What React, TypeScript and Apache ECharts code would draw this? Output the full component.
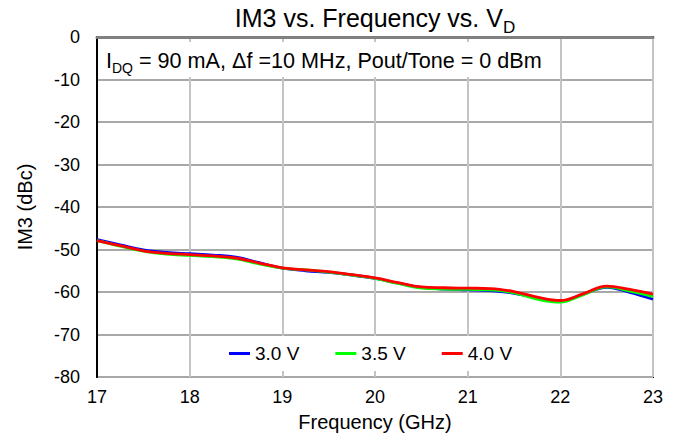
import React, { useEffect, useRef } from "react";
import * as echarts from "echarts";

const freqGHz = [17, 17.25, 17.5, 17.75, 18, 18.25, 18.5, 18.75, 19, 19.25, 19.5, 19.75, 20, 20.25, 20.5, 20.75, 21, 21.25, 21.5, 21.75, 22, 22.25, 22.5, 22.75, 23];
const im3_30V = [-47.7, -48.9, -50.1, -50.7, -51.0, -51.3, -51.8, -53.1, -54.4, -55.0, -55.4, -56.0, -56.8, -57.9, -58.9, -59.3, -59.5, -59.7, -60.3, -61.4, -62.2, -60.5, -58.9, -60.1, -61.7];
const im3_35V = [-47.9, -49.2, -50.4, -51.1, -51.4, -51.7, -52.2, -53.4, -54.4, -54.8, -55.3, -56.0, -56.8, -58.0, -59.1, -59.3, -59.4, -59.5, -60.2, -61.7, -62.4, -60.6, -58.8, -59.8, -61.1];
const im3_40V = [-47.9, -49.1, -50.3, -50.9, -51.2, -51.5, -52.0, -53.2, -54.3, -54.8, -55.2, -55.9, -56.7, -57.8, -58.8, -59.0, -59.1, -59.2, -59.9, -61.2, -62.0, -60.4, -58.6, -59.4, -60.5];
const seriesNames = ["3.0 V", "3.5 V", "4.0 V"];
const seriesColors = ["#0000ff", "#00ff00", "#ff0000"];
const xTicks = { min: 17, max: 23, interval: 1 };
const yTicks = { min: -80, max: 0, interval: 10 };

const FONT = "Liberation Sans, Arial, sans-serif";

export default function App() {
  const ref = useRef<HTMLDivElement>(null);
  useEffect(() => {
    if (!ref.current) return;
    const chart = echarts.init(ref.current, null, { renderer: "svg" });
    const allData = [im3_30V, im3_35V, im3_40V];
    chart.setOption({
      animation: false,
      backgroundColor: "#fff",
      textStyle: { fontFamily: FONT },
      title: {
        text: "{a|IM3 vs. Frequency vs. V}{b|D}",
        left: 375,
        top: 0,
        padding: 0,
        textAlign: "center",
        textStyle: {
          fontWeight: "normal",
          rich: {
            a: { fontSize: 25, fontFamily: FONT, color: "#000", fontWeight: "normal", lineHeight: 32 },
            b: { fontSize: 17, fontFamily: FONT, color: "#000", fontWeight: "normal", lineHeight: 36, verticalAlign: "bottom" },
          },
        },
      },
      grid: {
        left: 97,
        right: 24,
        top: 37,
        bottom: 68,
        show: true,
        borderColor: "#000",
        borderWidth: 2,
        backgroundColor: "transparent",
      },
      legend: {
        left: 200,
        top: 336,
        backgroundColor: "#fff",
        padding: [8, 29, 8, 29],
        itemGap: 36,
        itemWidth: 21,
        itemHeight: 3,
        icon: "rect",
        data: seriesNames,
        textStyle: { fontSize: 19, color: "#000", fontFamily: FONT },
        z: 10,
      },
      xAxis: {
        type: "value",
        min: xTicks.min,
        max: xTicks.max,
        interval: xTicks.interval,
        name: "Frequency (GHz)",
        nameLocation: "middle",
        nameGap: 35,
        nameTextStyle: { fontSize: 20, color: "#000", fontFamily: FONT },
        axisLine: { show: true, lineStyle: { color: "#808080", width: 3 } },
        axisTick: { show: false },
        axisLabel: { fontSize: 18, color: "#000", margin: 11, fontFamily: FONT },
        splitLine: { show: true, lineStyle: { color: "#c4c4c4", width: 2 } },
      },
      yAxis: {
        type: "value",
        min: yTicks.min,
        max: yTicks.max,
        interval: yTicks.interval,
        name: "IM3 (dBc)",
        nameLocation: "middle",
        nameGap: 62,
        nameTextStyle: { fontSize: 20, color: "#000", fontFamily: FONT },
        axisLine: { show: true, lineStyle: { color: "#000", width: 2 } },
        axisTick: { show: false },
        axisLabel: { fontSize: 18, color: "#000", margin: 17, fontFamily: FONT },
        splitLine: { show: true, lineStyle: { color: "#a8a8a8", width: 2 } },
      },
      graphic: [
        {
          type: "rect",
          z: 100,
          shape: { x: 99, y: 42, width: 456, height: 35 },
          style: { fill: "#fff" },
        },
        {
          type: "text",
          z: 101,
          x: 106,
          y: 45,
          style: {
            text: "{a|I}{b|DQ}{a| = 90 mA, \u0394f =10 MHz, Pout/Tone = 0 dBm}",
            rich: {
              a: { fontSize: 21.6, fontFamily: FONT, fill: "#000", lineHeight: 26 },
              b: { fontSize: 14, fontFamily: FONT, fill: "#000", lineHeight: 30, verticalAlign: "bottom" },
            },
          },
        },
      ],
      series: allData.map((d, i) => ({
        name: seriesNames[i],
        type: "line",
        smooth: 0.4,
        symbol: "none",
        data: freqGHz.map((f, j) => [f, d[j]]),
        lineStyle: { color: seriesColors[i], width: 2.8 },
        itemStyle: { color: seriesColors[i] },
        z: 3 + i,
      })),
    });
    return () => chart.dispose();
  }, []);
  return (
    <div
      ref={ref}
      style={{ position: "fixed", left: 0, top: 0, width: 677, height: 445 }}
    />
  );
}
